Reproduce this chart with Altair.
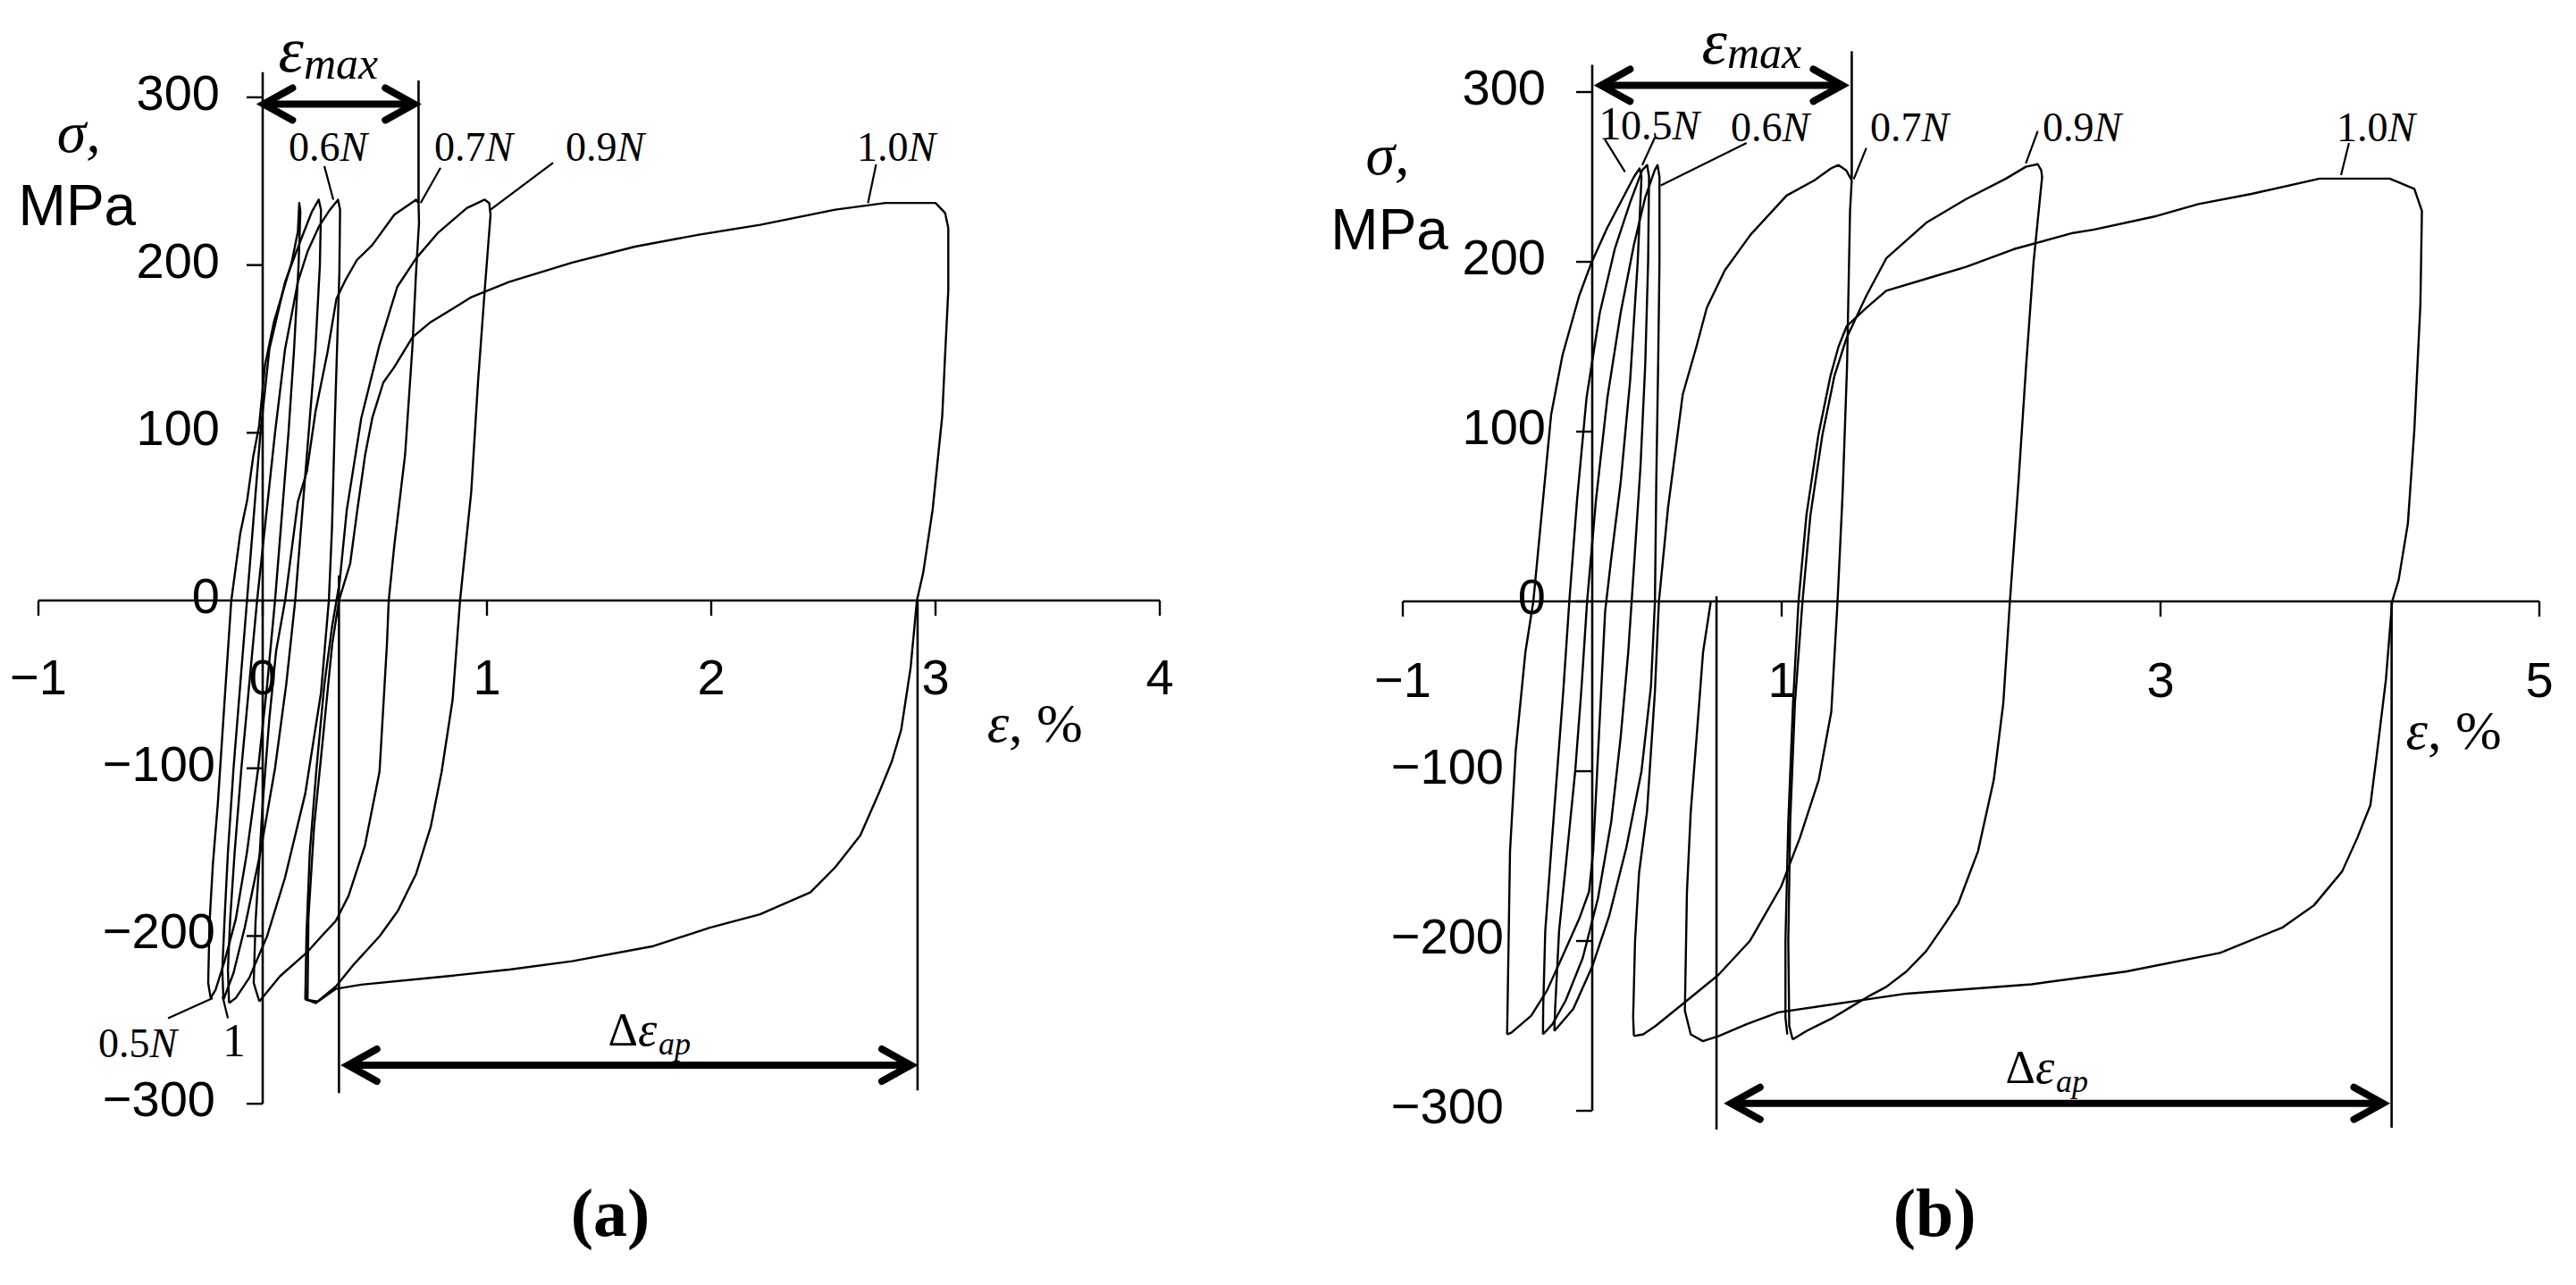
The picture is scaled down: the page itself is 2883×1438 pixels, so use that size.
import altair as alt
import pandas as pd

SANS = "Liberation Sans"
SERIF = "Liberation Serif"

# ---------------- Panel (a): loops (strain %, stress MPa) ----------------
A_05N = [(-0.232,-237),(-0.243,-228),(-0.237,-192),(-0.222,-157),(-0.200,-121),(-0.170,-60),(-0.140,0),(-0.100,40),(-0.069,60),(-0.042,86),(-0.016,104),(0.010,140),(0.050,166),(0.090,184),(0.130,202),(0.157,220),(0.163,237),(0.168,232),(0.160,200),(0.140,150),(0.115,100),(0.085,50),(0.055,0),(0.020,-50),(-0.020,-100),(-0.070,-150),(-0.120,-190),(-0.170,-215),(-0.210,-232),(-0.232,-237)]
A_1 = [(-0.175,-238),(-0.180,-220),(-0.170,-190),(-0.155,-150),(-0.130,-100),(-0.100,-50),(-0.070,0),(-0.040,50),(-0.010,100),(0.030,150),(0.100,190),(0.170,215),(0.220,232),(0.250,239),(0.260,233),(0.255,200),(0.235,150),(0.205,100),(0.175,50),(0.145,0),(0.105,-50),(0.055,-100),(-0.010,-150),(-0.080,-195),(-0.130,-222),(-0.175,-238)]
A_06N = [(-0.150,-240),(-0.155,-220),(-0.145,-190),(-0.125,-150),(-0.095,-100),(-0.060,-50),(-0.025,0),(0.015,50),(0.055,100),(0.100,150),(0.157,190),(0.200,208),(0.251,223),(0.300,233),(0.336,239),(0.345,233),(0.342,196),(0.322,108),(0.309,43),(0.295,0),(0.260,-55),(0.190,-115),(0.100,-165),(0.020,-200),(-0.060,-225),(-0.120,-237),(-0.150,-240)]
A_07N = [(-0.015,-239),(-0.040,-228),(-0.032,-192),(-0.016,-157),(0.000,-121),(0.030,-70),(0.060,-30),(0.100,0),(0.157,59),(0.197,77),(0.236,113),(0.289,148),(0.329,180),(0.369,191),(0.420,203),(0.489,212),(0.587,230),(0.684,239),(0.695,237),(0.697,225),(0.684,196),(0.668,152),(0.635,87),(0.587,33),(0.562,0),(0.554,-26),(0.521,-102),(0.456,-146),(0.383,-176),(0.326,-191),(0.263,-200),(0.196,-210),(0.077,-224),(-0.003,-237),(-0.015,-239)]
A_09N = [(0.190,-238),(0.195,-200),(0.210,-150),(0.240,-100),(0.275,-50),(0.310,-15),(0.343,11),(0.375,54),(0.440,109),(0.520,152),(0.600,187),(0.684,204),(0.780,219),(0.910,234),(0.990,239),(1.010,237),(1.016,230),(0.990,185),(0.960,130),(0.930,65),(0.880,0),(0.847,-59),(0.798,-102),(0.749,-135),(0.684,-163),(0.603,-185),(0.522,-200),(0.406,-217),(0.327,-230),(0.245,-239),(0.190,-238)]
A_10N = [(0.200,-238),(0.204,-189),(0.229,-135),(0.262,-91),(0.310,-26),(0.340,0),(0.390,22),(0.422,54),(0.457,87),(0.489,109),(0.538,130),(0.586,139),(0.668,157),(0.749,166),(0.847,174),(0.932,181),(1.100,190),(1.380,201.5),(1.660,211),(1.940,218),(2.218,224),(2.553,233),(2.777,237),(3.000,237),(3.043,231),(3.057,222),(3.057,185),(3.043,147),(3.030,110),(2.987,54),(2.945,16.5),(2.917,0),(2.889,-40),(2.847,-77),(2.805,-96),(2.750,-114),(2.665,-140),(2.553,-159),(2.442,-174),(2.218,-187),(1.994,-195),(1.743,-206),(1.380,-215),(1.100,-220),(0.821,-224),(0.440,-229),(0.326,-231.5),(0.237,-240),(0.200,-238)]

# ---------------- Panel (b): loops ----------------
B_1 = [(-0.450,-255),(-0.449,-253),(-0.434,-147),(-0.404,-88),(-0.353,-30),(-0.311,0),(-0.217,110),(-0.157,145),(-0.069,180),(-0.006,199),(0.079,220),(0.173,240),(0.220,250),(0.250,255),(0.260,250),(0.240,200),(0.200,130),(0.150,70),(0.100,25),(0.068,-6),(0.047,-53),(0.026,-100),(0.005,-147),(-0.017,-171),(-0.069,-187),(-0.153,-208),(-0.238,-229),(-0.322,-244),(-0.427,-254),(-0.450,-255)]
B_05N = [(-0.260,-255),(-0.259,-240),(-0.248,-194),(-0.217,-147),(-0.185,-100),(-0.153,-53),(-0.121,0),(-0.080,60),(-0.030,120),(0.040,170),(0.120,208),(0.200,235),(0.264,254),(0.290,257),(0.300,250),(0.295,200),(0.280,140),(0.255,80),(0.220,20),(0.190,-30),(0.150,-80),(0.100,-130),(0.030,-175),(-0.050,-210),(-0.140,-235),(-0.210,-249),(-0.260,-255)]
B_06N = [(-0.200,-253),(-0.196,-240),(-0.175,-194),(-0.132,-147),(-0.090,-100),(-0.058,-53),(-0.027,0),(0.020,60),(0.080,120),(0.150,170),(0.220,210),(0.280,238),(0.330,254),(0.345,257),(0.355,250),(0.355,200),(0.348,140),(0.338,70),(0.331,0),(0.310,-50),(0.260,-100),(0.180,-145),(0.090,-185),(0.000,-215),(-0.100,-240),(-0.200,-253)]
B_07N = [(0.220,-256),(0.216,-245),(0.226,-200),(0.247,-160),(0.289,-124),(0.331,-53),(0.352,0),(0.400,55),(0.478,122),(0.550,150),(0.605,173),(0.700,195),(0.836,216),(1.026,239),(1.173,248),(1.260,255),(1.300,257),(1.340,254),(1.370,248),(1.361,230),(1.345,138),(1.322,64),(1.295,0),(1.262,-65),(1.196,-105),(1.097,-139),(0.997,-168),(0.832,-200),(0.666,-220),(0.501,-235),(0.335,-250),(0.269,-255),(0.220,-256)]
B_09N = [(1.058,-258),(1.040,-250),(1.035,-200),(1.045,-130),(1.070,-60),(1.110,0),(1.152,51),(1.215,98),(1.279,133),(1.342,155),(1.447,180),(1.552,202),(1.763,223),(1.974,237),(2.184,249),(2.289,256),(2.352,257.5),(2.370,254),(2.375,250),(2.330,200),(2.290,138),(2.250,70),(2.205,0),(2.170,-60),(2.120,-105),(2.037,-147),(1.932,-178),(1.868,-189),(1.763,-206),(1.658,-218),(1.552,-227),(1.468,-232),(1.363,-239),(1.258,-246),(1.131,-253),(1.058,-258)]
B_10N = [(1.030,-255),(1.020,-245),(1.020,-200),(1.035,-130),(1.060,-60),(1.089,0),(1.131,51),(1.194,98),(1.258,133),(1.300,150),(1.343,162),(1.448,173),(1.552,183),(1.763,190),(1.974,197),(2.226,207.5),(2.538,217),(2.650,219),(2.980,227),(3.200,234),(3.480,240),(3.840,249),(4.210,249),(4.340,243),(4.380,230),(4.372,175),(4.340,101),(4.306,46),(4.257,12.6),(4.223,0),(4.190,-46),(4.141,-91),(4.108,-120),(4.040,-139),(3.959,-159),(3.810,-179),(3.645,-192),(3.314,-207),(2.817,-218),(2.320,-225.5),(1.659,-231),(0.983,-242),(0.815,-249),(0.668,-256),(0.584,-259),(0.520,-255),(0.489,-241),(0.500,-171),(0.520,-124),(0.553,-77),(0.585,-30),(0.626,0)]

# ---------------- axes: ticks and tick labels ----------------
A_XTICKS = [-1, 0, 1, 2, 3, 4]
A_XLABELS = ["\u22121", "0", "1", "2", "3", "4"]
A_YTICKS = [-300, -200, -100, 0, 100, 200, 300]
A_YLABELS = ["\u2212300", "\u2212200", "\u2212100", "0", "100", "200", "300"]
A_YAXIS_TOP = 315

B_XTICKS = [-1, 1, 3, 5]
B_XLABELS = ["\u22121", "1", "3", "5"]
B_YTICKS = [-300, -200, -100, 0, 100, 200, 300]
B_YLABELS = ["\u2212300", "\u2212200", "\u2212100", "0", "100", "200", "300"]
B_YAXIS_TOP = 316

# ---------------- loop labels (junction of number and N), leaders ----------------
A_LABEL_NUM = ["0.5", "0.6", "0.7", "0.9", "1.0"]
A_LABEL_EPS = [-0.504, 0.345, 0.994, 1.580, 2.878]
A_LABEL_SIG = [-272.2, 262.1, 262.1, 262.1, 262.1]
A_ONE_LABEL = (-0.127, -271.7)
A_LEADERS = [((-0.422,-249),(-0.223,-237)), ((-0.155,-249),(-0.179,-236)), ((0.275,259),(0.315,239)),
             ((0.793,258),(0.704,237)), ((1.295,261),(1.016,233)), ((2.735,260),(2.699,237))]

B_LABEL_NUM = ["0.5", "0.6", "0.7", "0.9", "1.0"]
B_LABEL_EPS = [0.422, 1.002, 1.738, 2.649, 4.200]
B_LABEL_SIG = [272, 271, 271, 271, 271]
B_ONE_LABEL = (0.094, 272)
B_LEADERS = [((0.067,272),(0.173,253)), ((0.330,273),(0.264,257)), ((0.815,270),(0.362,245)),
             ((1.447,267),(1.380,248.6)), ((2.352,277),(2.289,258)), ((3.995,270),(3.953,251))]

# ---------------- annotations: eps_max and delta eps_ap ----------------
A_EMAX_ARROW = (0.004, 0.676, 296)
A_EMAX_LINE = (0.695, 310, 237)
A_DEAP_ARROW = (0.380, 2.890, -277)
A_DEAP_LINES = [(0.340, 15, -293.6), (2.920, 0, -292)]
B_EMAX_ARROW = (0.047, 1.320, 304)
B_EMAX_LINE = (1.370, 324, 249)
B_DEAP_ARROW = (0.733, 4.174, -295.6)
B_DEAP_LINES = [(0.656, 3, -311), (4.220, 0, -310)]

# text anchors
A_SIGMA = (-0.82, 267.4); A_MPA = (-0.827, 223.8)
B_SIGMA = (-1.08, 251.6); B_MPA = (-1.07, 207.4)
A_EPSPCT = (3.327, -84.2); B_EPSPCT = (4.410, -86.8)
A_EMAX_TXT = (0.183, 315.4, 311.0); B_EMAX_TXT = (0.712, 317.0, 314.0)
A_DEAP_TXT = (1.673, 1.765, -265.3, -270.6); B_DEAP_TXT = (2.340, 2.448, -283.7, -289.0)
A_TAG = (1.55, -378.8, "(a)"); B_TAG = (1.807, -373.7, "(b)")

LEFT_HEAD = "M1.8,-1L0,0L1.8,1"
RIGHT_HEAD = "M-1.8,-1L0,0L-1.8,1"


def loops_df(named):
    rows = []
    for name, pts in named:
        for i, (e, s) in enumerate(pts):
            rows.append({"loop": name, "i": i, "e": e, "s": s})
    return pd.DataFrame(rows)


def panel(loops, xticks, xlabels, yticks, ylabels, yaxis_top, lab_num, lab_eps, lab_sig, one_lab,
          leaders, emax_arrow, emax_line, deap_arrow, deap_lines, sigma, mpa, epspct, emax_txt,
          deap_txt, tag, xdom, ydom, width, height, ydx_pos, ydx_neg, xlab_dy):
    xs = alt.Scale(domain=xdom, nice=False, zero=False)
    ys = alt.Scale(domain=ydom, nice=False, zero=False)
    X = lambda f="e": alt.X(f + ":Q", scale=xs, axis=None)
    Y = lambda f="s": alt.Y(f + ":Q", scale=ys, axis=None)
    layers = []

    ld = loops_df(loops)
    layers.append(alt.Chart(ld).mark_line(color="black", strokeWidth=2.4, strokeJoin="round")
                  .encode(x=X(), y=Y(), detail="loop:N", order="i:Q"))

    segs = []
    segs.append({"e": min(xticks), "e2": max(xticks), "s": 0, "s2": 0})
    segs.append({"e": 0, "e2": 0, "s": min(yticks), "s2": yaxis_top})
    seg_df = pd.DataFrame(segs)
    layers.append(alt.Chart(seg_df).mark_rule(color="black", strokeWidth=2.6)
                  .encode(x=X(), x2=alt.X2("e2:Q"), y=Y(), y2=alt.Y2("s2:Q")))

    xt = pd.DataFrame({"e": xticks, "s": [0] * len(xticks), "t": xlabels})
    layers.append(alt.Chart(xt).mark_rule(color="black", strokeWidth=2.4, y2Offset=17)
                  .encode(x=X(), y=Y(), y2=alt.Y2("s:Q")))
    layers.append(alt.Chart(xt).mark_text(font=SANS, fontSize=56, align="center", baseline="middle",
                                          dy=xlab_dy, color="black")
                  .encode(x=X(), y=Y(), text="t:N"))

    yt = pd.DataFrame({"e": [0] * len(yticks), "s": yticks, "t": ylabels})
    layers.append(alt.Chart(yt).mark_rule(color="black", strokeWidth=2.4, x2Offset=-18)
                  .encode(x=X(), x2=alt.X2("e:Q"), y=Y()))
    yt_pos = yt[yt["s"] >= 0]
    yt_neg = yt[yt["s"] < 0]
    layers.append(alt.Chart(yt_pos).mark_text(font=SANS, fontSize=56, align="right", baseline="middle",
                                              dx=ydx_pos, dy=-3, color="black")
                  .encode(x=X(), y=Y(), text="t:N"))
    layers.append(alt.Chart(yt_neg).mark_text(font=SANS, fontSize=56, align="right", baseline="middle",
                                              dx=ydx_neg, dy=-3, color="black")
                  .encode(x=X(), y=Y(), text="t:N"))

    vl = [{"e": emax_line[0], "e2": emax_line[0], "s": emax_line[1], "s2": emax_line[2]}]
    for e, s1, s2 in deap_lines:
        vl.append({"e": e, "e2": e, "s": s1, "s2": s2})
    layers.append(alt.Chart(pd.DataFrame(vl)).mark_rule(color="black", strokeWidth=2.6)
                  .encode(x=X(), x2=alt.X2("e2:Q"), y=Y(), y2=alt.Y2("s2:Q")))

    ldr = pd.DataFrame([{"e": a[0], "s": a[1], "e2": b[0], "s2": b[1]} for a, b in leaders])
    layers.append(alt.Chart(ldr).mark_rule(color="black", strokeWidth=2.2)
                  .encode(x=X(), x2=alt.X2("e2:Q"), y=Y(), y2=alt.Y2("s2:Q")))

    arr = pd.DataFrame([{"e": emax_arrow[0], "e2": emax_arrow[1], "s": emax_arrow[2]},
                        {"e": deap_arrow[0], "e2": deap_arrow[1], "s": deap_arrow[2]}])
    layers.append(alt.Chart(arr).mark_rule(color="black", strokeWidth=8)
                  .encode(x=X(), x2=alt.X2("e2:Q"), y=Y()))
    layers.append(alt.Chart(arr).mark_point(shape=LEFT_HEAD, size=1296, filled=False, color="black",
                                            strokeWidth=8, opacity=1, strokeCap="round")
                  .encode(x=X(), y=Y()))
    layers.append(alt.Chart(arr).mark_point(shape=RIGHT_HEAD, size=1296, filled=False, color="black",
                                            strokeWidth=8, opacity=1, strokeCap="round")
                  .encode(x=X("e2"), y=Y()))

    lab = pd.DataFrame({"e": lab_eps, "s": lab_sig, "t": lab_num, "n": ["N"] * len(lab_num)})
    layers.append(alt.Chart(lab).mark_text(font=SERIF, fontSize=46, align="right", baseline="alphabetic",
                                           color="black")
                  .encode(x=X(), y=Y(), text="t:N"))
    layers.append(alt.Chart(lab).mark_text(font=SERIF, fontSize=46, fontStyle="italic", align="left",
                                           baseline="alphabetic", color="black")
                  .encode(x=X(), y=Y(), text="n:N"))
    one = pd.DataFrame({"e": [one_lab[0]], "s": [one_lab[1]], "t": ["1"]})
    layers.append(alt.Chart(one).mark_text(font=SERIF, fontSize=52, align="center", baseline="alphabetic",
                                           color="black")
                  .encode(x=X(), y=Y(), text="t:N"))

    def txt(e, s, t, **kw):
        d = pd.DataFrame({"e": [e], "s": [s], "t": [t]})
        props = dict(color="black", baseline="alphabetic")
        props.update(kw)
        return alt.Chart(d).mark_text(**props).encode(x=X(), y=Y(), text="t:N")

    layers.append(txt(sigma[0], sigma[1], "\u03c3,", font=SERIF, fontSize=66, fontStyle="italic", align="center"))
    layers.append(txt(mpa[0], mpa[1], "MPa", font=SANS, fontSize=64, align="center"))
    layers.append(txt(epspct[0], epspct[1], "\u03b5", font=SERIF, fontSize=62, fontStyle="italic", align="right"))
    layers.append(txt(epspct[0], epspct[1], ", %", font=SERIF, fontSize=62, align="left"))
    layers.append(txt(emax_txt[0], emax_txt[1], "\u03b5", font=SERIF, fontSize=72, fontStyle="italic", align="right"))
    layers.append(txt(emax_txt[0], emax_txt[2], "max", font=SERIF, fontSize=50, fontStyle="italic", align="left"))
    layers.append(txt(deap_txt[0], deap_txt[2], "\u0394", font=SERIF, fontSize=52, align="right"))
    layers.append(txt(deap_txt[0], deap_txt[2], "\u03b5", font=SERIF, fontSize=54, fontStyle="italic", align="left"))
    layers.append(txt(deap_txt[1], deap_txt[3], "ap", font=SERIF, fontSize=36, fontStyle="italic", align="left"))
    layers.append(txt(tag[0], tag[1], tag[2], font=SERIF, fontSize=76, fontWeight="bold", align="center"))

    return alt.layer(*layers).properties(width=width, height=height)


pa = panel([("0.5N", A_05N), ("1", A_1), ("0.6N", A_06N), ("0.7N", A_07N), ("0.9N", A_09N), ("1.0N", A_10N)],
           A_XTICKS, A_XLABELS, A_YTICKS, A_YLABELS, A_YAXIS_TOP,
           A_LABEL_NUM, A_LABEL_EPS, A_LABEL_SIG, A_ONE_LABEL, A_LEADERS,
           A_EMAX_ARROW, A_EMAX_LINE, A_DEAP_ARROW, A_DEAP_LINES,
           A_SIGMA, A_MPA, A_EPSPCT, A_EMAX_TXT, A_DEAP_TXT, A_TAG,
           xdom=[-1.1394, 4.5657], ydom=[-403.8, 353.76], width=1432, height=1422,
           ydx_pos=-48, ydx_neg=-53, xlab_dy=88)

pb = panel([("1", B_1), ("0.5N", B_05N), ("0.6N", B_06N), ("0.7N", B_07N), ("0.9N", B_09N), ("1.0N", B_10N)],
           B_XTICKS, B_XLABELS, B_YTICKS, B_YLABELS, B_YAXIS_TOP,
           B_LABEL_NUM, B_LABEL_EPS, B_LABEL_SIG, B_ONE_LABEL, B_LEADERS,
           B_EMAX_ARROW, B_EMAX_LINE, B_DEAP_ARROW, B_DEAP_LINES,
           B_SIGMA, B_MPA, B_EPSPCT, B_EMAX_TXT, B_DEAP_TXT, B_TAG,
           xdom=[-1.6132, 5.1557], ydom=[-398.4, 350.0], width=1435, height=1422,
           ydx_pos=-52, ydx_neg=-99, xlab_dy=90)

chart = alt.hconcat(pa, pb, spacing=0).properties(padding=0).configure_view(stroke=None)
chart.save("out.html", embed_options={"renderer": "svg", "actions": False})
